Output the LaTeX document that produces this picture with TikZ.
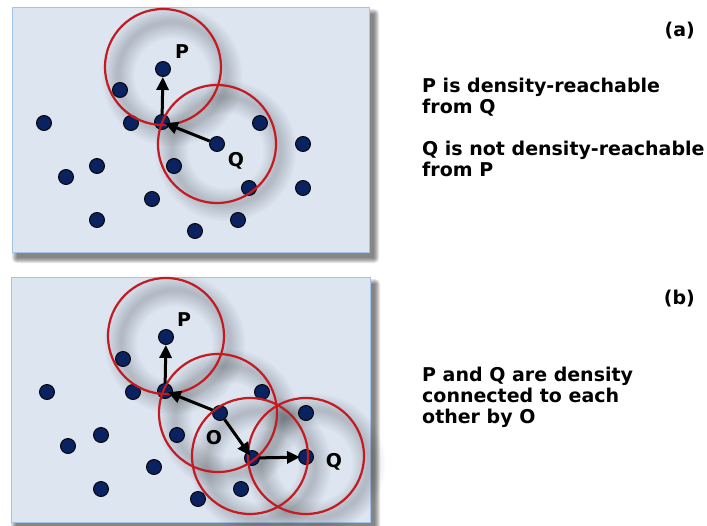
\documentclass[tikz,border=0pt]{standalone}
\usepackage{fontspec}
\setmainfont{DejaVu Sans}
\usetikzlibrary{arrows.meta,calc}
\definecolor{panelfill}{HTML}{DCE5F0}
\definecolor{panelline}{HTML}{A4C4E8}
\definecolor{dotfill}{HTML}{0B2260}
\definecolor{epsred}{HTML}{C41A22}
\pgfdeclarelayer{bgpanel}
\pgfdeclarelayer{bgshadow}
\pgfsetlayers{bgpanel,bgshadow,main}
\begin{document}
\begin{tikzpicture}[x=1pt,y=-1pt,
 pt/.style={circle,fill=dotfill,draw=black,line width=0.9pt,minimum size=15pt,inner sep=0pt},
 eps/.style={draw=epsred,line width=2.2pt},
 arr/.style={draw=black,line width=3pt,-{Triangle[length=13pt,width=12pt]}},
 deep/.style={shorten >=-5pt},
 lbl/.style={font=\bfseries\fontsize{19}{19}\selectfont,inner sep=0pt},
 txt/.style={font=\bfseries\fontsize{19}{21}\selectfont,inner sep=0pt,anchor=base west},
 panel/.style={fill=panelfill,draw=panelline,line width=1pt},
 ringshadow/.style={draw=black,opacity=0.016},
]
\useasboundingbox (0,0) rectangle (707,525);

% panels with soft drop shadows
\begin{pgfonlayer}{bgpanel}
\foreach \d in {0,1,2,3,4,5}{
  \fill[black,opacity=0.1,rounded corners=\d pt] (17-\d,14-\d) rectangle (374+\d,258+\d);
  \fill[black,opacity=0.1,rounded corners=\d pt] (16-\d,284-\d) rectangle (375+\d,528+\d);
}
\draw[panel] (12,7) rectangle (369,252);
\draw[panel] (11,277) rectangle (370,522);
\end{pgfonlayer}

% ---------- panel (a) ----------
\node[pt] (ap) at (163,69) {};
\node[pt] (a2) at (120,90) {};
\node[pt] (a3) at (44,123) {};
\node[pt] (a4) at (131,123) {};
\node[pt] (ac) at (162,122) {};
\node[pt] (a6) at (260,123) {};
\node[pt] (aq) at (217,144) {};
\node[pt] (a8) at (303,144) {};
\node[pt] (a9) at (97,166) {};
\node[pt] (a10) at (66,177) {};
\node[pt] (a11) at (174,166) {};
\node[pt] (a12) at (249,188) {};
\node[pt] (a13) at (303,188) {};
\node[pt] (a14) at (152,199) {};
\node[pt] (a15) at (97,220) {};
\node[pt] (a16) at (238,220) {};
\node[pt] (a17) at (195,231) {};

\begin{pgfonlayer}{bgshadow}
\foreach \c in {ap,aq}{
  \foreach \w in {3,6,...,33}{
    \draw[ringshadow,line width=\w pt] ($(\c)+(9,7)$) circle[radius=54pt];
  }
}
\end{pgfonlayer}

\draw[eps] ($(ap)+(0,-2)$) circle[radius=58pt];
\draw[eps] (aq) circle[radius=59pt];

\node[lbl] (aPl) at (182,52) {P};
\node[lbl] (aQl) at (236,161) {Q};

\draw[arr] (ac) -- (ap);
\draw[arr,deep] (aq) -- (ac);

% ---------- panel (b) ----------
\node[pt] (bp) at (166,337) {};
\node[pt] (b2) at (123,359) {};
\node[pt] (b3) at (47,392) {};
\node[pt] (b4) at (133,392) {};
\node[pt] (bc) at (165,391) {};
\node[pt] (b6) at (262,392) {};
\node[pt] (bo) at (220,413) {};
\node[pt] (b8) at (306,413) {};
\node[pt] (b9) at (101,435) {};
\node[pt] (b10) at (68,446) {};
\node[pt] (b11) at (177,435) {};
\node[pt] (bm) at (252,458) {};
\node[pt] (bq) at (306,457) {};
\node[pt] (b14) at (154,467) {};
\node[pt] (b15) at (101,489) {};
\node[pt] (b16) at (241,489) {};
\node[pt] (b17) at (198,499) {};

\begin{pgfonlayer}{bgshadow}
\foreach \c in {bp,bo,bm,bq}{
  \foreach \w in {3,6,...,33}{
    \draw[ringshadow,line width=\w pt] ($(\c)+(9,7)$) circle[radius=54pt];
  }
}
\end{pgfonlayer}

\draw[eps] ($(bp)+(0,-1)$) circle[radius=58pt];
\draw[eps] ($(bo)+(-2,0)$) circle[radius=59pt];
\draw[eps] ($(bm)+(-2,-2)$) circle[radius=58pt];
\draw[eps] ($(bq)+(0,-1)$) circle[radius=58pt];

\node[lbl] (bPl) at (184,320) {P};
\node[lbl] (bOl) at (214,438) {O};
\node[lbl] (bQl) at (334,462) {Q};

\draw[arr] (bc) -- (bp);
\draw[arr,deep] (bo) -- (bc);
\draw[arr,deep] (bo) -- (bm);
\draw[arr,shorten >=-2pt] (bm) -- (bq);

% ---------- texts ----------
\node[txt,anchor=base east] (ta) at (695,36) {(a)};
\node[txt] (t1) at (422,92) {P is density-reachable};
\node[txt] (t2) at (422,113) {from Q};
\node[txt] (t3) at (422,155) {Q is not density-reachable};
\node[txt] (t4) at (422,176) {from P};

\node[txt,anchor=base east] (tb) at (695,304) {(b)};
\node[txt] (t5) at (422,381) {P and Q are density};
\node[txt] (t6) at (422,402) {connected to each};
\node[txt] (t7) at (422,423) {other by O};
\end{tikzpicture}
\end{document}
